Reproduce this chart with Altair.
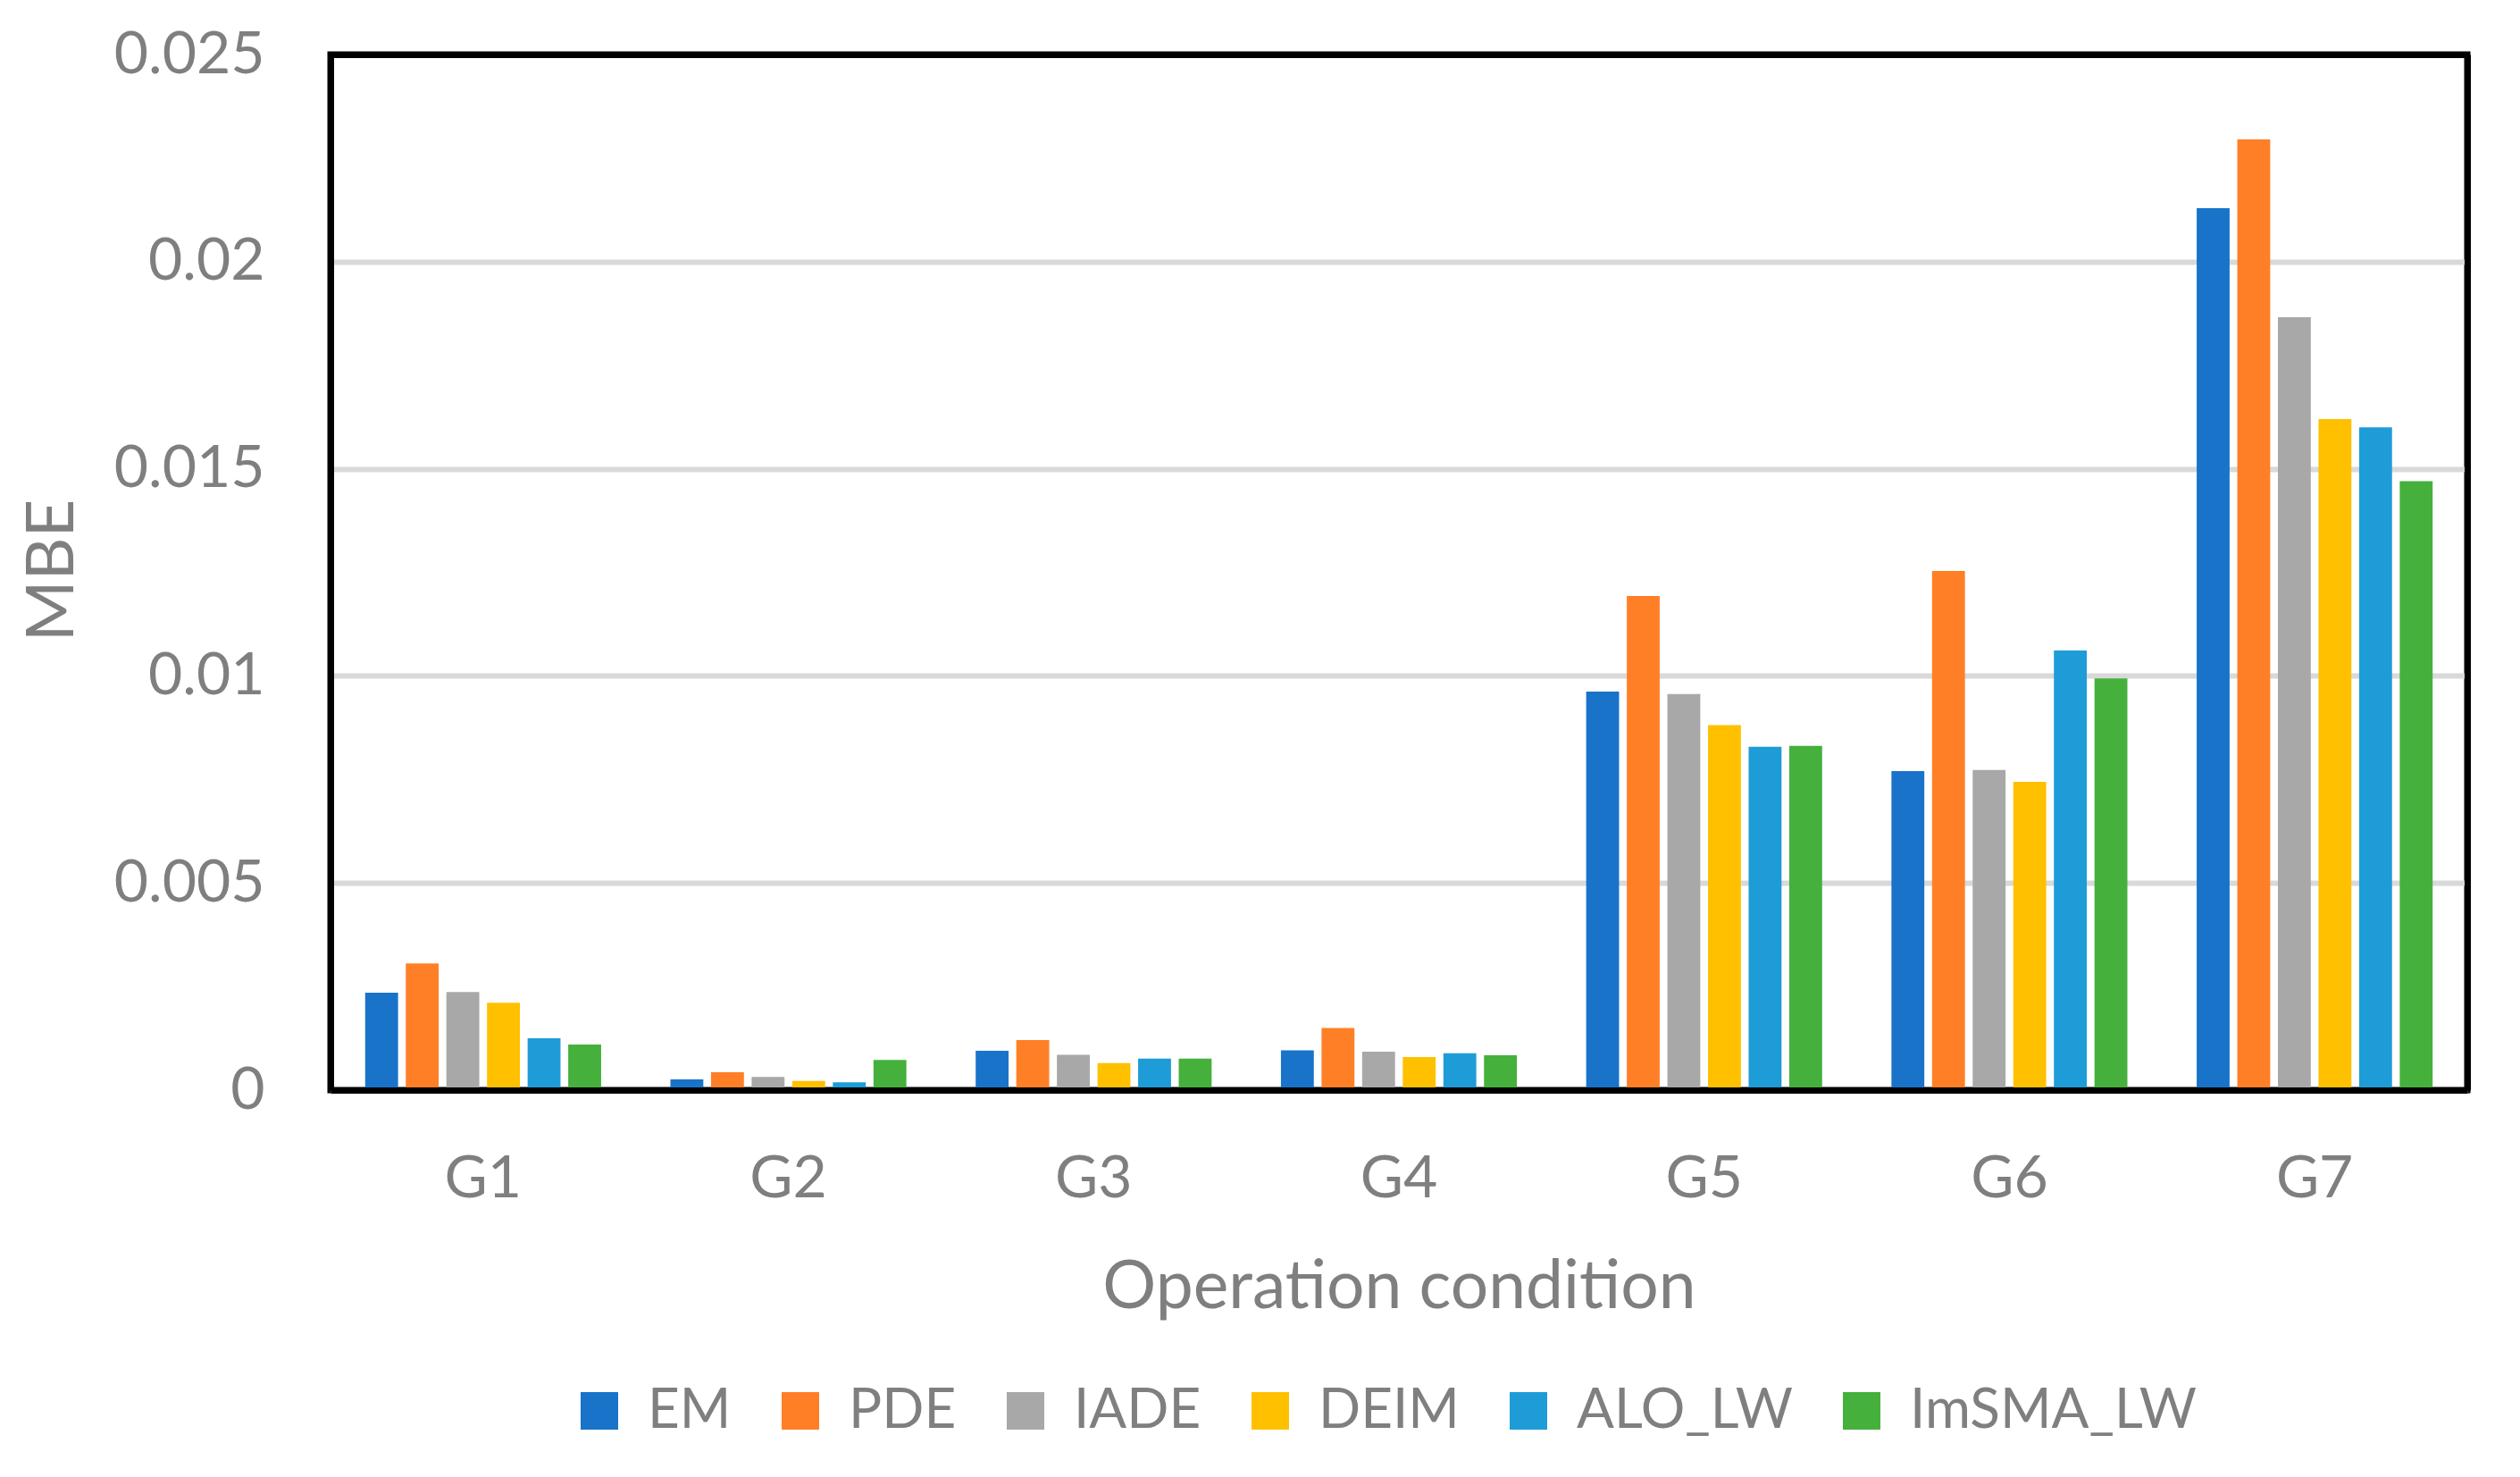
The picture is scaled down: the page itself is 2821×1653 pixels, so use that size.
import altair as alt
import pandas as pd

groups = ["G1", "G2", "G3", "G4", "G5", "G6", "G7"]
methods = ["EM", "PDE", "IADE", "DEIM", "ALO_LW", "ImSMA_LW"]
colors = ["#1873C9", "#FF7F27", "#A8A8A8", "#FFC000", "#1E9CD8", "#45B03C"]

EM = [0.00235, 0.00026, 0.00095, 0.00096, 0.00962, 0.00770, 0.02129]
PDE = [0.00306, 0.00043, 0.00121, 0.00150, 0.01193, 0.01253, 0.02295]
IADE = [0.00237, 0.00032, 0.00085, 0.00093, 0.00956, 0.00773, 0.01866]
DEIM = [0.00211, 0.00022, 0.00065, 0.00080, 0.00881, 0.00744, 0.01620]
ALO_LW = [0.00125, 0.00019, 0.00076, 0.00089, 0.00829, 0.01061, 0.01600]
ImSMA_LW = [0.00110, 0.00073, 0.00076, 0.00084, 0.00831, 0.00994, 0.01470]

y_ticks = [0, 0.005, 0.01, 0.015, 0.02, 0.025]

series = {"EM": EM, "PDE": PDE, "IADE": IADE, "DEIM": DEIM,
          "ALO_LW": ALO_LW, "ImSMA_LW": ImSMA_LW}
rows = []
for m in methods:
    for g, v in zip(groups, series[m]):
        rows.append({"group": g, "method": m, "value": v})
df = pd.DataFrame(rows)

FONT = "Lato"
GRAY = "#7f7f7f"

x_enc = alt.X("group:N", sort=groups,
              scale=alt.Scale(paddingInner=0.227, paddingOuter=0.1135),
              axis=alt.Axis(title="Operation condition", labelAngle=0,
                            labelFont=FONT, labelFontSize=66, labelColor=GRAY,
                            labelPadding=67, ticks=False,
                            domain=True, domainColor="black", domainWidth=7,
                            zindex=1,
                            titleFont=FONT, titleFontSize=75, titleColor=GRAY,
                            titleFontWeight="normal", titleBaseline="alphabetic",
                            titleY=243, grid=False))

y_scale = alt.Scale(domain=[0, 0.025], nice=False)

bars = alt.Chart(df).mark_bar().encode(
    x=x_enc,
    xOffset=alt.XOffset("method:N", sort=methods,
                        scale=alt.Scale(paddingInner=0.19, paddingOuter=0)),
    y=alt.Y("value:Q", scale=y_scale,
            axis=alt.Axis(title="MBE", values=y_ticks, format="~g",
                          domain=True, domainColor="black", domainWidth=7,
                          ticks=False, labelFont=FONT, labelFontSize=66,
                          labelColor=GRAY, labelPadding=74, labelLimit=400,
                          grid=True,
                          gridColor={"condition": {"test": "datum.value > 0.0249",
                                                   "value": "black"},
                                     "value": "#d9d9d9"},
                          gridWidth={"condition": {"test": "datum.value > 0.0249",
                                                   "value": 7},
                                     "value": 6},
                          titleFont=FONT, titleFontSize=74, titleColor=GRAY,
                          titleFontWeight="normal", titleAngle=270,
                          titleBaseline="alphabetic", titleAlign="center",
                          titleX=-289, titleY=577)),
    color=alt.Color("method:N", sort=methods,
                    scale=alt.Scale(domain=methods, range=colors),
                    legend=alt.Legend(title=None, orient="none",
                                      direction="horizontal",
                                      legendX=270, legendY=1487,
                                      symbolType="square", symbolSize=1764,
                                      symbolStrokeWidth=0, symbolOpacity=1,
                                      labelFont=FONT, labelFontSize=62,
                                      labelColor=GRAY, labelOffset=23,
                                      labelLimit=1000, columnPadding=46,
                                      padding=0)),
)

frame = alt.Chart(df).mark_bar(opacity=0).encode(
    x=alt.X("group:N", sort=groups),
    y=alt.Y("value:Q", scale=y_scale,
            axis=alt.Axis(orient="right", title=None, labels=False,
                          ticks=False, grid=False, domain=True,
                          domainColor="black", domainWidth=7, zindex=1)),
)

chart = alt.layer(bars, frame).resolve_axis(y="independent").properties(
    width=2392,
    height=1159,
    background="white",
    autosize=alt.AutoSizeParams(type="none"),
    padding={"left": 362, "top": 53, "right": 40, "bottom": 410},
).configure_view(
    stroke="black", strokeWidth=7
)

chart.save("out.html", embed_options={"renderer": "svg", "actions": False})
